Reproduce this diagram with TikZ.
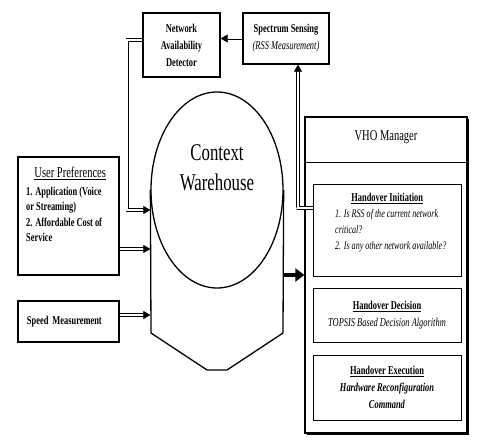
\documentclass[tikz,border=0pt]{standalone}
\usepackage{fontspec}
\setmainfont{Liberation Serif}[FakeStretch=0.7]
\usetikzlibrary{positioning, shapes.geometric, calc, arrows.meta, shadows}

\begin{document}
\begin{tikzpicture}[
  x=1pt, y=-1pt,
  font=\fontsize{12}{17}\selectfont,
  box/.style={
    draw,
    line width=1.3pt,
    inner sep=0pt,
    align=center,
  },
  stage/.style={
    draw,
    line width=0.8pt,
    inner sep=0pt,
    align=center,
    minimum width=148pt,
  },
  dblarrow/.style={double, double distance=2pt, line width=0.6pt, -{Triangle[length=7pt,width=8pt]}},
  fatarrow/.style={line width=3.5pt, -{Triangle[length=9pt,width=13pt]}},
]
\useasboundingbox (0,0) rectangle (477,444);

% --- Network Availability Detector ---
\node[box, minimum width=77pt, minimum height=64pt, font=\fontsize{12}{17}\selectfont\bfseries] (NAD) at (181.5,45) {Network\\Availability\\Detector};

% --- Spectrum Sensing ---
\node[box, minimum width=86pt, minimum height=51pt] (Spectrum) at (286,38.5) {
  \textbf{Spectrum Sensing}\\
  \textit{(RSS Measurement)}
};

% --- User Preferences ---
\node[box, minimum width=101pt, minimum height=118pt] (UserPref) at (68.5,216) {};
\node[anchor=north west, align=left, inner sep=0pt, font=\fontsize{12}{15.5}\selectfont] (UserPrefText) at (26,167) {
  \makebox[88pt]{\fontsize{15}{17}\selectfont\underline{User Preferences}}\\[2pt]
  \textbf{1. Application (Voice}\\
  \textbf{or Streaming)}\\
  \textbf{2. Affordable Cost of}\\
  \textbf{Service}
};

% --- Speed Measurement ---
\node[box, minimum width=101pt, minimum height=41pt, text width=83pt, align=left, font=\fontsize{12}{17}\selectfont\bfseries] (Speed) at (68.5,321.5) {Speed Measurement};

% --- Context Warehouse ---
\node[ellipse, draw, line width=1.3pt, minimum width=132pt, minimum height=196pt, inner sep=0pt] (Warehouse) at (217,190) {};
\draw[line width=1.3pt] (Warehouse.west) -- (151,333) -- (207,370) -- (227,370) -- (283,333) -- (Warehouse.east);
\node[align=center, font=\fontsize{24}{30}\selectfont] (WarehouseLabel) at (217,168) {Context\\Warehouse};

\coordinate (InNAD) at ($(Warehouse.west)+(0,20)$);
\coordinate (InPref) at ($(Warehouse.west)+(0,59)$);
\coordinate (InSpeed) at ($(Warehouse.west)+(0,125)$);

% --- VHO Manager ---
\node[box, minimum width=162pt, minimum height=316pt, fill=white,
  drop shadow={shadow xshift=1.6pt, shadow yshift=-1.6pt, opacity=1, fill=black}] (VHO) at (386,275) {};
\draw[line width=1.3pt] ($(VHO.north west)+(0,46)$) -- ($(VHO.north east)+(0,46)$);
\node[font=\fontsize{15}{17}\selectfont] (VHOTitle) at (386,137) {VHO Manager};

\node[stage, minimum height=92pt] (Initiation) at (387,230) {};
\node[anchor=north west, align=left, inner sep=0pt, font=\fontsize{11.5}{16}\selectfont\itshape] (InitiationText) at (335,193) {
  \makebox[104pt]{\fontsize{12}{16}\selectfont\bfseries\upshape\underline{Handover Initiation}}\\
  1. Is RSS of the current network\\
  critical?\\
  2. Is any other network available?
};

\node[stage, minimum height=54pt] (Decision) at (387,315) {
  \textbf{\underline{Handover Decision}}\\
  \textit{TOPSIS Based Decision Algorithm}
};

\node[stage, minimum height=65pt] (Execution) at (387,387.5) {
  \textbf{\underline{Handover Execution}}\\
  \textbf{\textit{Hardware Reconfiguration}}\\
  \textbf{\textit{Command}}
};

% Connectors
\draw[dblarrow] (Spectrum.west) -- (Spectrum.west -| NAD.east);
\draw[dblarrow] ($(NAD.west)+(0,-5)$) -- ++(-15,0) |- (InNAD);
\draw[dblarrow] ($(UserPref.east)+(0,33)$) -- (InPref);
\draw[dblarrow] ($(Speed.east)+(0,-6.5)$) -- (InSpeed);
\draw[dblarrow] ($(Initiation.west)+(0,-22)$) -- ++(-16,0) -| ($(Spectrum.south)+(12,0)$);
\draw[fatarrow] (VHO.west -| Warehouse.east) -- (VHO.west);

\end{tikzpicture}
\end{document}
